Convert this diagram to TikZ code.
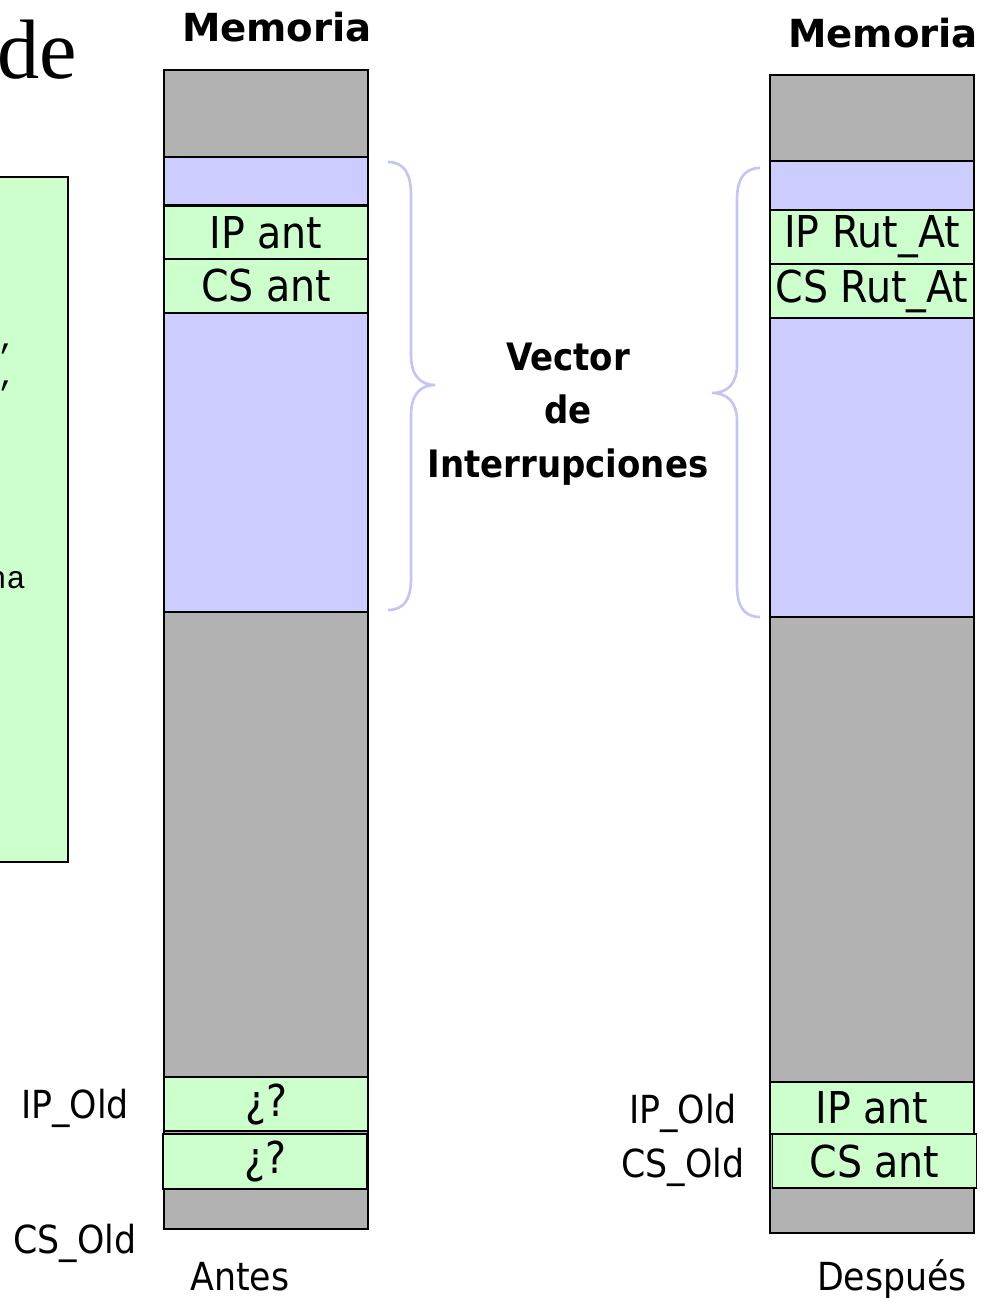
\documentclass[tikz,border=0pt]{standalone}
\usepackage{fontspec}
\setmainfont{DejaVu Sans Condensed}
\newfontfamily\negrita{DejaVu Sans Bold}
\newfontfamily\tiempos{Liberation Serif}
\newfontfamily\maquina{Liberation Mono}
\usepackage{tikz}

\definecolor{gris}{HTML}{B2B2B2}
\definecolor{lila}{HTML}{CCCCFF}
\definecolor{verde}{HTML}{CCFFCC}
\definecolor{llave}{HTML}{C4C4F6}

\begin{document}
\begin{tikzpicture}[x=0.02cm, y=-0.02cm,
                every node/.style={inner sep=0pt, font=\fontsize{25}{28}\selectfont}, % texto de las celdas
                celda/.style={draw, line width=1pt, minimum width=4.08cm, minimum height=#1*0.02cm}, % una posicion de memoria
                etiqueta/.style={font=\fontsize{22}{26}\selectfont},
                titulo/.style={font=\negrita\fontsize{22}{26}\selectfont},
                corchete/.style={draw=llave, line width=1.5pt}
                ]
                \useasboundingbox (0,0) rectangle (983,1298);
                \clip (0,0) rectangle (983,1298);

                % restos de la diapositiva
                \node[anchor=base east, font=\tiempos\fontsize{48}{52}\selectfont] (de) at (77,78) {de};
                \draw[fill=verde, line width=1pt] (-10,177) rectangle (68,862);
                \node[anchor=base, font=\maquina\fontsize{18}{20}\selectfont] (coma1) at (7,348) {,};
                \node[anchor=base, font=\maquina\fontsize{18}{20}\selectfont] (coma2) at (7,385) {,};
                \node[anchor=base east, font=\maquina\fontsize{18}{20}\selectfont] (una) at (26,588) {una};

                % memoria antes
                \node[titulo] (memA) at (277,27) {Memoria};
                \node[celda=1159, fill=gris] (fondoA) at (266,649.5) {};
                \node[celda=48, fill=lila] (vacioA) at (266,181) {};
                \node[celda=54, fill=verde] (ipA) at (266,233) {IP ant};
                \node[celda=54, fill=verde] (csA) at (266,286) {CS ant};
                \node[celda=299, fill=lila] (vecA) at (266,462.5) {};
                \node[celda=54, fill=verde] (pilaIPA) at (266,1104) {¿?};
                \node[celda=55, fill=verde] (pilaCSA) at (265,1161.5) {¿?};
                \node[etiqueta] (ipOldA) at (75,1108) {IP\_Old};
                \node[etiqueta] (csOldA) at (75,1243) {CS\_Old};
                \node[etiqueta] (antes) at (240,1277) {Antes};

                % memoria despues
                \node[titulo] (memD) at (883,33) {Memoria};
                \node[celda=1158, fill=gris] (fondoD) at (872,654) {};
                \node[celda=49, fill=lila] (vacioD) at (872,185.5) {};
                \node[celda=54, fill=verde] (ipD) at (872,237) {IP Rut\_At};
                \node[celda=54, fill=verde] (csD) at (872,291) {CS Rut\_At};
                \node[celda=299, fill=lila] (vecD) at (872,467.5) {};
                \node[celda=52, fill=verde] (pilaIPD) at (872,1108) {IP ant};
                \node[celda=54, fill=verde] (pilaCSD) at (874.5,1161) {CS ant};
                \node[etiqueta] (ipOldD) at (683,1113) {IP\_Old};
                \node[etiqueta] (csOldD) at (683,1167) {CS\_Old};
                \node[etiqueta] (despues) at (892,1279) {Después};

                % vector de interrupciones
                \node[align=center, font=\bfseries\fontsize{21.5}{30.6}\selectfont] (vector) at (568,414) {Vector\\de\\Interrupciones};
                \draw[corchete] (388,162) .. controls (405,162) and (411,175) .. (411,195) -- (411,355)
                    .. controls (411,375) and (420,385) .. (435,385) .. controls (420,385) and (411,395) .. (411,415)
                    -- (411,578) .. controls (411,598) and (405,610) .. (388,610);
                \draw[corchete] (760,168) .. controls (743,168) and (737,181) .. (737,200) -- (737,365)
                    .. controls (737,383) and (728,393) .. (712,393) .. controls (728,393) and (737,403) .. (737,421)
                    -- (737,585) .. controls (737,605) and (743,617) .. (760,617);
            \end{tikzpicture}
\end{document}
